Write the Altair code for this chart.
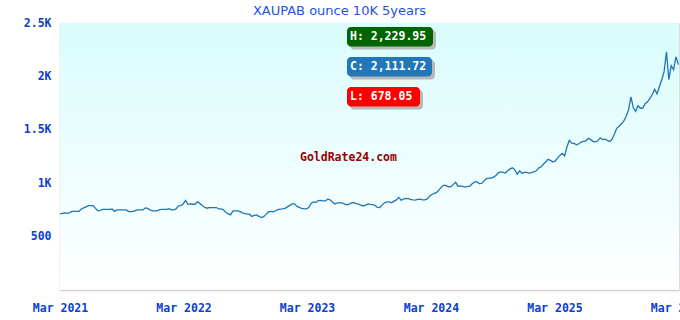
import altair as alt
import pandas as pd

# Weekly XAUPAB (10K, per ounce) closes, starting 2021-03-01
start_date = "2021-03-01"
prices = [
    712, 717, 722, 717, 722, 736, 736, 736, 736, 759,
    769, 778, 790, 790, 790, 764, 741, 745, 755, 755,
    755, 755, 759, 736, 750, 750, 750, 750, 750, 734,
    734, 736, 745, 750, 750, 750, 769, 764, 750, 741,
    741, 741, 752, 755, 755, 755, 761, 750, 750, 759,
    787, 790, 806, 839, 802, 806, 803, 803, 825, 811,
    792, 775, 766, 772, 772, 772, 772, 759, 759, 750,
    727, 712, 703, 741, 741, 741, 734, 722, 714, 710,
    710, 689, 698, 703, 689, 678.05, 687, 708, 731, 736,
    731, 742, 752, 757, 759, 764, 778, 792, 806, 806,
    783, 773, 765, 759, 759, 773, 811, 825, 820, 836,
    839, 834, 834, 851, 844, 825, 806, 816, 816, 816,
    806, 797, 803, 816, 818, 809, 804, 794, 787, 795,
    806, 802, 799, 792, 773, 772, 797, 816, 825, 825,
    816, 832, 844, 867, 841, 850, 857, 856, 848, 844,
    841, 848, 850, 844, 844, 853, 877, 894, 904, 914,
    937, 963, 982, 977, 967, 969, 989, 1008, 972, 975,
    970, 964, 970, 973, 994, 1012, 1012, 996, 998, 1022,
    1042, 1047, 1047, 1057, 1072, 1097, 1106, 1102, 1095, 1116,
    1134, 1144, 1125, 1084, 1116, 1094, 1102, 1102, 1094, 1099,
    1106, 1116, 1141, 1151, 1177, 1199, 1223, 1214, 1200, 1207,
    1235, 1260, 1280, 1256, 1341, 1402, 1375, 1372, 1359, 1369,
    1385, 1391, 1397, 1420, 1408, 1392, 1387, 1397, 1425, 1408,
    1412, 1401, 1391, 1411, 1458, 1514, 1533, 1556, 1584, 1627,
    1687, 1809, 1706, 1673, 1725, 1702, 1703, 1744, 1762, 1795,
    1828, 1880, 1837, 1903, 1969, 2044, 2229.95, 1969, 2100, 2062,
    2184, 2111.72,
]
y_ticks = [500, 1000, 1500, 2000, 2500]
x_tick_years = [2021, 2022, 2023, 2024, 2025, 2026]
title_text = "XAUPAB ounce 10K 5years"
watermark = "GoldRate24.com"

dates = pd.date_range(start_date, periods=len(prices), freq="7D")
df = pd.DataFrame({"date": dates, "price": prices})

high = max(prices)
low = min(prices)
close = prices[-1]
badges = [
    (f"H: {high:,.2f}", "#006400", 4, 373),
    (f"C: {close:,.2f}", "#2277bb", 34, 372),
    (f"L: {low:,.2f}", "#ff0000", 64, 360),
]

W, H = 619, 267
MONO = "DejaVu Sans Mono"
AXIS_BLUE = "#0b40d0"

one = pd.DataFrame({"k": [0]})

bg = alt.Chart(one).mark_rect(
    color=alt.Gradient(
        gradient="linear",
        stops=[alt.GradientStop(color="#d9fcfc", offset=0),
               alt.GradientStop(color="#ffffff", offset=1)],
        x1=0, x2=0, y1=0, y2=1,
    )
).encode(x=alt.value(0), x2=alt.value(W), y=alt.value(0), y2=alt.value(H))

x_axis = alt.Axis(
    values=[alt.DateTime(year=y, month=3, date=1) for y in x_tick_years],
    format="%b %Y", title=None, grid=False, ticks=False,
    labelFont=MONO, labelFontWeight="bold", labelFontSize=11.5, labelColor=AXIS_BLUE,
    labelPadding=12, domainColor="#d0d0d0", domainWidth=1.5, labelFlush=False,
)
y_axis = alt.Axis(
    values=y_ticks, title=None, ticks=False, grid=True, gridColor="#d9d9d9",
    labelExpr="datum.value >= 1000 ? format(datum.value / 1000, '.1~f') + 'K' : format(datum.value, 'd')",
    labelFont=MONO, labelFontWeight="bold", labelFontSize=11.5, labelColor=AXIS_BLUE,
    labelPadding=9, domainColor="#d0d0d0", domainWidth=1.5,
)

line = alt.Chart(df).mark_line(color="#1f77b4", strokeWidth=1.3).encode(
    x=alt.X("date:T", axis=x_axis,
            scale=alt.Scale(domain=[alt.DateTime(year=2021, month=3, date=1),
                                    alt.DateTime(year=2026, month=3, date=4)])),
    y=alt.Y("price:Q", axis=y_axis, scale=alt.Scale(domain=[0, 2500], nice=False)),
)

wm = alt.Chart(one).mark_text(
    text=watermark, font=MONO, fontWeight="bold", fontSize=11.5, color="#990000",
    align="left", baseline="middle",
).encode(x=alt.value(240), y=alt.value(135))

layers = [bg, line, wm]
for label, col, top, right in badges:
    left = 287
    shadow = alt.Chart(one).mark_rect(color="#b8b8b8", cornerRadius=4).encode(
        x=alt.value(left + 3), x2=alt.value(right + 3),
        y=alt.value(top + 3), y2=alt.value(top + 22.5))
    box = alt.Chart(one).mark_rect(color=col, cornerRadius=4).encode(
        x=alt.value(left), x2=alt.value(right),
        y=alt.value(top), y2=alt.value(top + 19.5))
    txt = alt.Chart(one).mark_text(
        text=label, font=MONO, fontWeight="bold", fontSize=11.5, color="white",
        align="left", baseline="middle").encode(
        x=alt.value(left + 3), y=alt.value(top + 10))
    layers += [shadow, box, txt]

chart = alt.layer(*layers).properties(
    width=W, height=H,
    title=alt.Title(title_text, font="DejaVu Sans", fontSize=13, fontWeight="normal",
                    color="#2255dd", anchor="middle", frame="group", dx=-30, dy=3, offset=2),
    padding={"left": 60, "top": 23, "right": 1, "bottom": 30},
    autosize=alt.AutoSizeParams(type="none"),
).configure_view(stroke="#d0d0d0", strokeWidth=1.5).configure(background="white")

chart.save("out.html", embed_options={"renderer": "svg", "actions": False})
